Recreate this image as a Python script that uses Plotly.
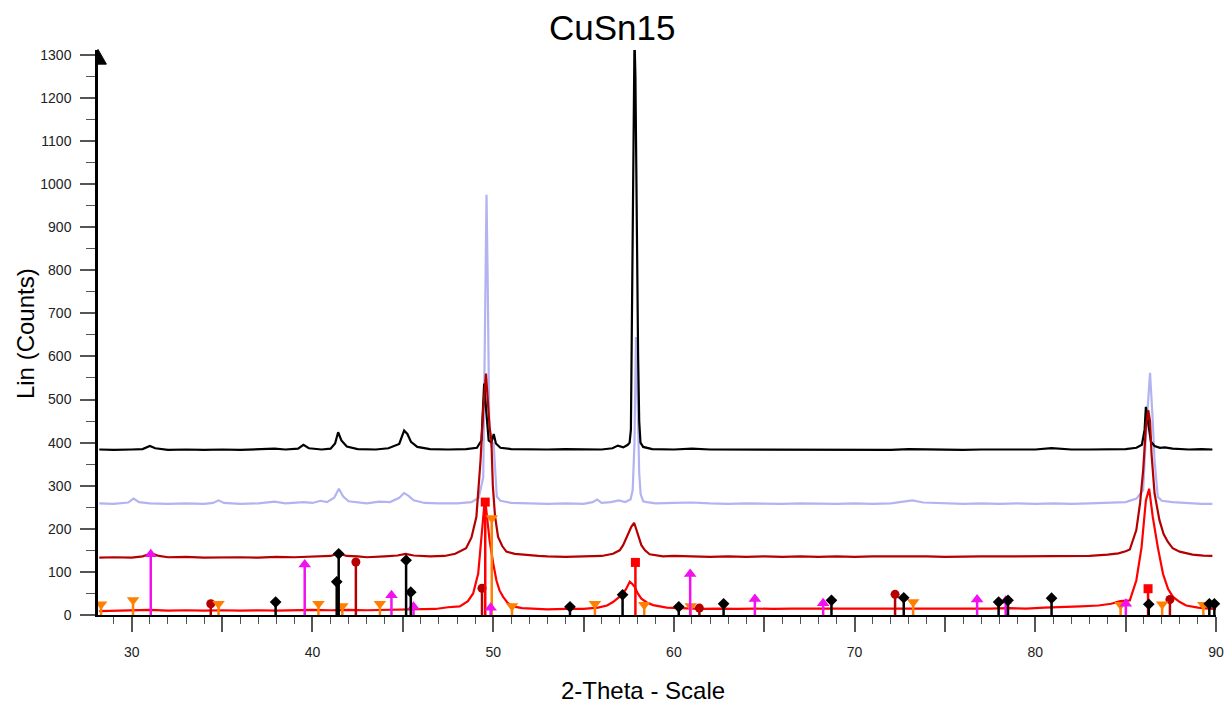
import plotly.graph_objects as go

# ---- measured scans (2-theta in degrees, intensity in counts) ----
black_x = [28.2, 29.0, 30.0, 30.6, 31.0, 31.3, 32.0, 33.0, 34.0, 35.0, 36.0, 37.0, 37.9, 38.5,
           39.2, 39.5, 39.8, 40.5, 41.0, 41.25, 41.42, 41.6, 41.9, 42.5, 43.5, 44.2, 44.8, 45.07,
           45.25, 45.45, 45.8, 46.5, 47.5, 48.5, 49.1, 49.35, 49.5, 49.62, 49.75, 49.9, 50.03,
           50.15, 50.4, 51.0, 52.0, 53.0, 54.0, 55.0, 56.0, 56.6, 56.9, 57.2, 57.45, 57.55, 57.62,
           57.68, 57.73, 57.78, 57.82, 57.87, 57.92, 57.97, 58.02, 58.08, 58.15, 58.3, 58.8, 60.0,
           61.0, 62.0, 63.0, 64.0, 65.0, 66.0, 67.0, 68.0, 69.0, 70.0, 71.0, 72.0, 73.0, 74.0,
           75.0, 76.0, 77.0, 78.0, 79.0, 80.0, 80.9, 82.0, 83.0, 84.0, 85.0, 85.6, 85.9, 86.05,
           86.12, 86.25, 86.4, 86.6, 86.9, 87.17, 87.6, 88.5, 89.2, 89.8]
black_y = [384, 383, 384, 385, 392, 387, 383, 384, 383, 384, 383, 385, 386, 384,
           386, 395, 387, 384, 386, 398, 424, 405, 391, 385, 384, 387, 397, 428,
           420, 402, 390, 385, 384, 385, 388, 405, 537, 470, 405, 400, 420,
           398, 388, 385, 384, 384, 385, 384, 384, 387, 393, 389, 395, 400, 430,
           700, 1000, 1250, 1340, 1250, 1000, 800, 600, 450, 400, 390, 385, 384,
           386, 384, 384, 383, 384, 384, 383, 384, 384, 383, 384, 383, 385, 384,
           384, 383, 384, 384, 383, 384, 387, 384, 384, 384, 385, 388, 395, 430,
           483, 445, 402, 392, 388, 389, 386, 384, 385, 384]

lav_x = [28.2, 29.0, 29.8, 30.1, 30.4, 31.0, 32.0, 33.0, 34.0, 34.5, 34.8, 35.1, 36.0, 37.0,
         37.9, 38.5, 39.5, 40.0, 40.44, 40.8, 41.2, 41.46, 41.7, 42.0, 43.0, 43.7, 44.3, 44.8,
         45.07, 45.3, 45.6, 46.2, 47.0, 48.0, 48.8, 49.2, 49.45, 49.58, 49.63, 49.7, 49.78, 49.9,
         50.02, 50.12, 50.2, 50.4, 51.0, 52.0, 53.0, 54.0, 55.0, 55.5, 55.75, 56.0, 56.5, 56.96,
         57.3, 57.6, 57.72, 57.82, 57.9, 57.96, 58.02, 58.08, 58.16, 58.3, 58.5, 59.0, 60.0, 61.0,
         62.0, 63.0, 64.0, 65.0, 66.0, 67.0, 68.0, 69.0, 70.0, 71.0, 72.0, 73.2, 73.8, 75.0,
         76.0, 77.0, 78.0, 79.0, 80.0, 81.0, 82.0, 83.0, 84.0, 85.0, 85.6, 85.97, 86.15, 86.35,
         86.5, 86.6, 86.78, 87.0, 87.6, 88.5, 89.2, 89.8]
lav_y = [259, 258, 261, 270, 262, 259, 258, 259, 258, 260, 266, 260, 258, 259,
         263, 259, 262, 260, 265, 262, 272, 293, 275, 264, 259, 263, 262, 272,
         283, 277, 266, 260, 259, 259, 262, 272, 320, 900, 975, 760, 450, 390,
         400, 330, 275, 265, 260, 259, 258, 259, 258, 262, 268, 260, 262, 266,
         262, 268, 290, 400, 645, 560, 420, 330, 280, 264, 262, 259, 260, 261,
         259, 258, 259, 258, 258, 259, 258, 258, 259, 258, 259, 266, 261, 259,
         258, 259, 258, 259, 258, 259, 258, 259, 260, 262, 270, 290, 437, 562,
         450, 358, 274, 265, 262, 259, 258, 258]

dred_x = [28.2, 29.0, 30.0, 30.6, 31.1, 31.5, 32.0, 33.0, 34.0, 35.0, 36.0, 37.0, 38.0, 39.0,
          40.0, 41.0, 41.45, 41.9, 42.5, 43.0, 44.0, 44.7, 45.15, 45.6, 46.5, 47.3, 47.9, 48.5,
          48.8, 49.07, 49.3, 49.45, 49.6, 49.7, 49.8, 49.9, 49.98, 50.1, 50.27, 50.5, 50.73,
          51.2, 51.8, 52.5, 53.0, 54.0, 55.0, 56.0, 56.63, 57.0, 57.19, 57.45, 57.65, 57.8,
          57.95, 58.2, 58.4, 58.66, 59.4, 60.0, 61.0, 62.0, 63.0, 64.0, 65.0, 66.0, 67.0, 68.0,
          69.0, 70.0, 71.0, 72.0, 73.0, 74.0, 75.0, 76.0, 77.0, 78.0, 79.0, 80.0, 81.0, 82.0,
          83.0, 84.0, 84.6, 85.0, 85.23, 85.59, 85.8, 85.97, 86.12, 86.25, 86.35, 86.43, 86.6,
          86.87, 87.1, 87.33, 87.6, 87.99, 88.7, 89.3, 89.8]
dred_y = [133, 134, 133, 136, 143, 137, 134, 135, 133, 134, 134, 133, 135, 134,
          135, 137, 143, 137, 136, 134, 136, 138, 142, 138, 136, 137, 142, 155,
          180, 228, 359, 480, 560, 500, 436, 405, 300, 230, 181, 160, 147,
          142, 139, 137, 136, 135, 136, 137, 142, 150, 162, 185, 205, 214,
          195, 162, 150, 141, 136, 137, 136, 135, 136, 135, 136, 135, 136, 135,
          136, 135, 136, 136, 137, 136, 135, 136, 136, 136, 136, 136, 137, 136,
          137, 140, 143, 148, 152, 197, 260, 336, 437, 475, 450, 375, 282,
          220, 188, 170, 155, 147, 140, 138, 137]

red_x = [28.2, 29.0, 29.5, 30.0, 30.5, 31.0, 32.0, 33.0, 34.0, 35.0, 36.0, 37.0, 38.0, 39.0,
         40.0, 41.0, 42.0, 43.0, 44.0, 45.0, 46.0, 46.8, 47.5, 48.15, 48.6, 48.89, 49.17, 49.39,
         49.5, 49.57, 49.65, 49.8, 50.0, 50.18, 50.35, 50.55, 50.8, 51.1, 51.6, 52.2, 53.0, 54.0,
         55.0, 55.8, 56.3, 56.63, 57.1, 57.35, 57.56, 57.7, 57.84, 58.0, 58.2, 58.5, 58.85, 59.6,
         60.5, 61.5, 62.5, 63.5, 64.5, 65.5, 66.5, 67.5, 68.5, 69.5, 70.5, 71.5, 72.5, 73.5,
         74.5, 75.5, 76.5, 77.5, 78.5, 79.5, 80.5, 81.5, 82.5, 83.5, 84.2, 84.7, 85.23, 85.59,
         85.88, 86.12, 86.3, 86.5, 86.78, 87.07, 87.35, 87.62, 88.0, 88.35, 89.0, 89.6, 90.0]
red_y = [9, 10, 11, 12, 11, 12, 10, 11, 10, 11, 10, 11, 10, 11,
         12, 11, 12, 11, 12, 12, 13, 14, 18, 20, 32, 50, 96, 189,
         251, 262, 230, 173, 120, 80, 57, 42, 28, 20, 16, 14, 13, 14,
         14, 17, 22, 30, 46, 60, 77, 72, 65, 50, 38, 29, 23, 17,
         15, 14, 15, 14, 15, 14, 15, 15, 14, 15, 14, 15, 15, 14,
         15, 15, 14, 15, 16, 15, 17, 18, 20, 22, 26, 32, 34, 80,
         157, 266, 293, 228, 157, 95, 60, 42, 30, 22, 17, 15, 14]

# ---- reference phase sticks (position, height) ----
mag_pos = [31.05, 39.57, 44.37, 45.59, 49.86, 60.90, 64.48, 68.26, 76.78, 78.36, 85.01]
mag_h = [141, 117, 46, 19, 17, 95, 37, 27, 36, 33, 26]

org_pos = [28.30, 30.07, 34.80, 40.33, 41.65, 43.73, 49.92, 51.04, 55.63, 58.36, 60.93,
           73.24, 84.72, 87.02, 89.30]
org_h = [25, 35, 26, 26, 21, 26, 225, 21, 26, 24, 21, 30, 24, 25, 24]

blk_pos = [37.96, 41.34, 41.45, 45.18, 45.44, 54.25, 57.16, 60.27, 62.75, 68.72, 72.72,
           77.97, 78.49, 80.90, 86.28, 89.63, 89.91]
blk_h = [30, 77, 142, 127, 53, 19, 47, 19, 26, 34, 40, 30, 34, 39, 25, 26, 26]

drd_pos = [34.37, 42.40, 49.38, 61.41, 72.24, 87.45]
drd_h = [26, 123, 62, 16, 48, 36]

red_pos = [49.56, 57.87, 86.24]
red_h = [262, 122, 61]

y_ticks = list(range(0, 1301, 100))
x_ticks = [30, 35, 40, 45, 50, 55, 60, 65, 70, 75, 80, 85, 90]
x_labels = ["30", "", "40", "", "50", "", "60", "", "70", "", "80", "", "90"]

FONT = "Arial, Liberation Sans, sans-serif"
C_BLACK = "#000000"
C_LAV = "#b3b3f2"
C_DRED = "#b50000"
C_RED = "#ff0000"
C_MAG = "#f010f0"
C_ORG = "#ff8000"

fig = go.Figure()

for xs, ys, col in [(lav_x, lav_y, C_LAV), (black_x, black_y, C_BLACK),
                    (dred_x, dred_y, C_DRED), (red_x, red_y, C_RED)]:
    fig.add_trace(go.Scatter(x=xs, y=ys, mode="lines",
                             line=dict(color=col, width=2.2), hoverinfo="skip"))


def sticks(pos, hts, col, symbol, size):
    sx, sy = [], []
    for p, h in zip(pos, hts):
        sx += [p, p, None]
        sy += [0, h, None]
    fig.add_trace(go.Scatter(x=sx, y=sy, mode="lines",
                             line=dict(color=col, width=2.5), hoverinfo="skip"))
    fig.add_trace(go.Scatter(x=pos, y=hts, mode="markers",
                             marker=dict(color=col, symbol=symbol, size=size,
                                         line=dict(width=0)),
                             hoverinfo="skip", cliponaxis=False))


sticks(drd_pos, drd_h, C_DRED, "circle", 9)
sticks(red_pos, red_h, C_RED, "square", 9)
sticks(org_pos, org_h, C_ORG, "triangle-down", 11)
sticks(mag_pos, mag_h, C_MAG, "triangle-up", 11)
sticks(blk_pos, blk_h, C_BLACK, "diamond", 9)

fig.update_layout(
    width=1226, height=706,
    margin=dict(l=98, r=10, t=50, b=91, autoexpand=False),
    paper_bgcolor="white", plot_bgcolor="white",
    showlegend=False,
    font=dict(family=FONT, color="#222222", size=14),
    xaxis=dict(range=[28.13, 90], showgrid=False, zeroline=False, automargin=False,
               showline=True, linecolor="black", linewidth=2,
               tickmode="array", tickvals=x_ticks, ticktext=x_labels,
               ticks="outside", ticklen=15, tickwidth=1.5, tickcolor="#555555",
               minor=dict(dtick=1, tick0=0, ticks="outside", ticklen=7,
                          tickwidth=1.2, tickcolor="#555555"),
               tickfont=dict(size=14, family=FONT, color="#222222"),
               ticklabelstandoff=8),
    yaxis=dict(range=[0, 1311], showgrid=False, zeroline=False, automargin=False,
               showline=True, linecolor="black", linewidth=2.5,
               tickmode="array", tickvals=y_ticks,
               ticks="outside", ticklen=15, tickwidth=1.5, tickcolor="#555555",
               minor=dict(dtick=50, tick0=0, ticks="outside", ticklen=9,
                          tickwidth=1.2, tickcolor="#555555"),
               tickfont=dict(size=14, family=FONT, color="#222222"),
               ticklabelstandoff=6),
    annotations=[
        dict(text="CuSn15", x=0.46, y=1.0406, xref="paper", yref="paper",
             showarrow=False, font=dict(size=35, family=FONT, color="black"),
             xanchor="center", yanchor="middle"),
        dict(text="Lin (Counts)", x=-0.0653, y=0.499, xref="paper", yref="paper",
             showarrow=False, textangle=-90,
             font=dict(size=24, family=FONT, color="black"),
             xanchor="center", yanchor="middle"),
        dict(text="2-Theta - Scale", x=0.4875, y=-0.1335, xref="paper", yref="paper",
             showarrow=False, font=dict(size=24, family=FONT, color="black"),
             xanchor="center", yanchor="middle"),
    ],
    shapes=[
        # arrow head on top of the intensity axis
        dict(type="path", xref="paper", yref="paper", layer="above",
             path="M 0,1.001 L 0.0075,0.975 L 0,0.975 Z",
             fillcolor="black", line=dict(color="black", width=1)),
    ],
)

fig.write_html("out.html")
